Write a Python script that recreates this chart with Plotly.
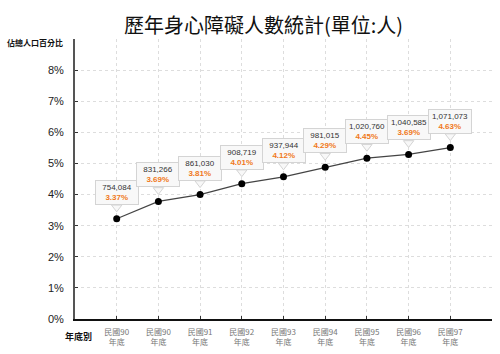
import plotly.graph_objects as go

categories = ["民國90", "民國90", "民國91", "民國92", "民國93", "民國94", "民國95", "民國96", "民國97"]
line_values = [3.22, 3.78, 4.00, 4.35, 4.57, 4.88, 5.17, 5.29, 5.51]
counts = ["754,084", "831,266", "861,030", "908,719", "937,944", "981,015", "1,020,760", "1,040,585", "1,071,073"]
pct_labels = ["3.37%", "3.69%", "3.81%", "4.01%", "4.12%", "4.29%", "4.45%", "3.69%", "4.63%"]
y_ticks = [0, 1, 2, 3, 4, 5, 6, 7, 8]
y_tick_text = [f"{v}%" for v in y_ticks]

xpos = list(range(1, len(categories) + 1))
tick_text = [f"{c}<br>年底" for c in categories]

W, H = 500, 354
ML, MR, MT, MB = 75, 8, 39, 35
PW, PH = W - ML - MR, H - MT - MB
Y_RANGE = [0, 9]
px_per_unit = PH / (Y_RANGE[1] - Y_RANGE[0])


def px_to_paper(xp, yp):
    return (xp - ML) / PW, (H - MB - yp) / PH


fig = go.Figure()
fig.add_trace(go.Scatter(
    x=xpos, y=line_values, mode="lines+markers",
    line=dict(color="#444444", width=1.2),
    marker=dict(color="#000000", size=7),
    hoverinfo="skip", showlegend=False,
))
# callout pointers (pixel offset above each point, converted via the axis scale)
fig.add_trace(go.Scatter(
    x=xpos, y=[v + 11.5 / px_per_unit for v in line_values], mode="markers",
    marker=dict(symbol="triangle-down", size=9, color="#f8f8f8",
                line=dict(color="#d4d4d4", width=1)),
    hoverinfo="skip", showlegend=False,
))

annotations = []
for x, y, c, p in zip(xpos, line_values, counts, pct_labels):
    annotations.append(dict(
        x=x, y=y, xref="x", yref="y", showarrow=False,
        yanchor="bottom", yshift=14,
        text=f"<span style='color:#333333'>{c}</span><br><b><span style='color:#f07820'>{p}</span></b>",
        font=dict(family="Liberation Sans, Arial", size=8),
        bgcolor="#f8f8f8", bordercolor="#d4d4d4", borderwidth=1, borderpad=2,
        width=38,
    ))

tx, ty = px_to_paper(263, 25)
annotations.append(dict(
    x=tx, y=ty, xref="paper", yref="paper", showarrow=False,
    text="歷年身心障礙人數統計(單位:人)",
    font=dict(family="Noto Sans CJK TC", size=20, color="#111111"),
    xanchor="center", yanchor="middle",
))
ax_, ay_ = px_to_paper(5, 43)
annotations.append(dict(
    x=ax_, y=ay_, xref="paper", yref="paper", showarrow=False,
    text="<b>佔總人口百分比</b>",
    font=dict(family="Noto Sans CJK TC", size=8, color="#111111"),
    xanchor="left", yanchor="middle",
))
bx, by = px_to_paper(63, 336)
annotations.append(dict(
    x=bx, y=by, xref="paper", yref="paper", showarrow=False,
    text="<b>年底別</b>",
    font=dict(family="Noto Sans CJK TC", size=9, color="#111111"),
    xanchor="left", yanchor="middle",
))

fig.update_layout(
    width=W, height=H,
    margin=dict(l=ML, r=MR, t=MT, b=MB),
    paper_bgcolor="white", plot_bgcolor="white",
    annotations=annotations,
    xaxis=dict(
        range=[0, 10], tickvals=xpos, ticktext=tick_text,
        showgrid=True, gridcolor="#dddddd", griddash="3px,3px", gridwidth=1,
        showline=True, linecolor="#111111", linewidth=2,
        ticks="inside", ticklen=3, tickcolor="#333333",
        tickfont=dict(family="Noto Sans CJK TC", size=8, color="#777777"),
        ticklabelstandoff=4, automargin=False,
        zeroline=False, fixedrange=True,
    ),
    yaxis=dict(
        range=Y_RANGE, tickvals=y_ticks, ticktext=y_tick_text,
        showgrid=True, gridcolor="#dddddd", griddash="3px,3px", gridwidth=1,
        showline=True, linecolor="#555555", linewidth=2,
        ticks="inside", ticklen=3, tickcolor="#333333",
        tickfont=dict(family="Liberation Sans, Arial", size=11, color="#222222"),
        ticklabelstandoff=7, automargin=False,
        zeroline=False, fixedrange=True,
    ),
)

fig.write_html("out.html")
